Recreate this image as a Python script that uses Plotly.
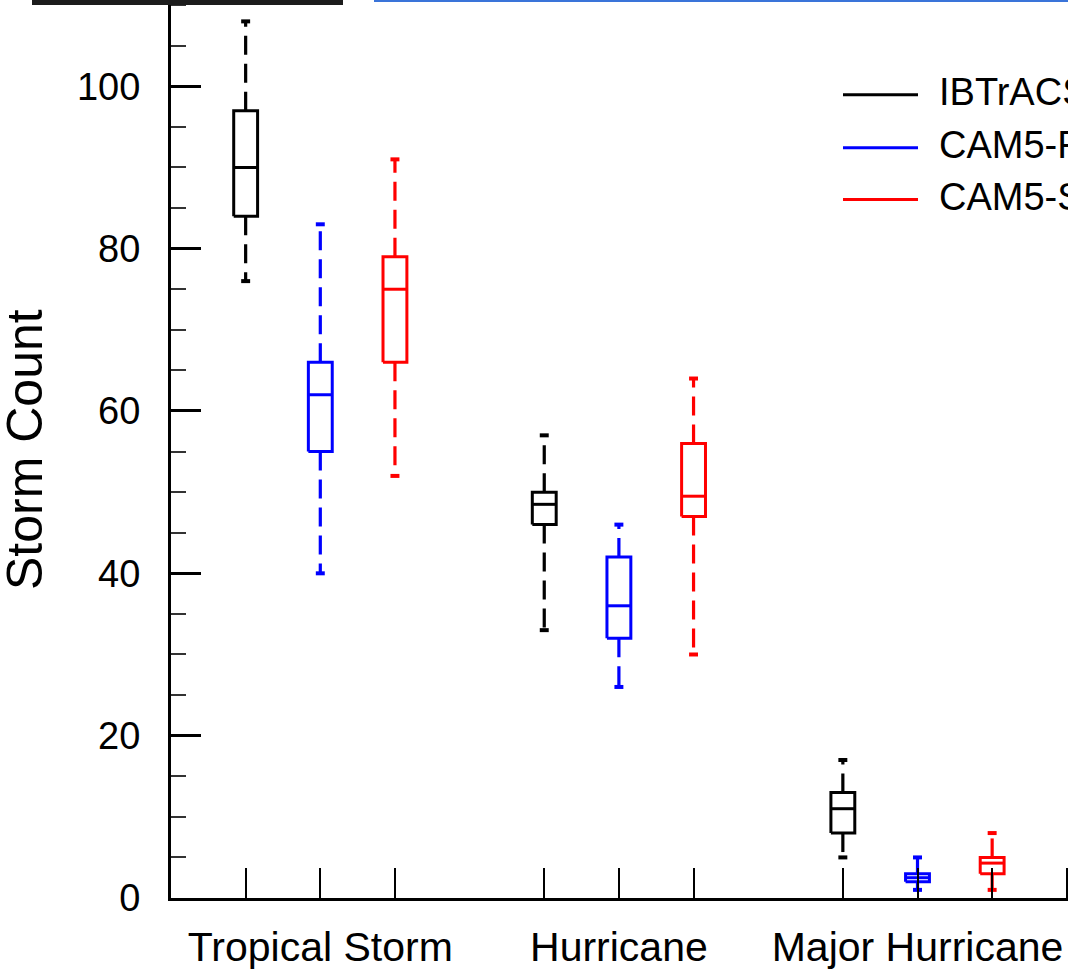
import plotly.graph_objects as go

# ---------------- data ----------------
categories = ["Tropical Storm", "Hurricane", "Major Hurricane"]
series_names = ["IBTrACS", "CAM5-FV", "CAM5-SE"]
series_colors = ["#000000", "#0000ff", "#ff0000"]

ibtracs_lower = [76, 33, 5]
ibtracs_q1 = [84, 46, 8]
ibtracs_median = [90, 48.5, 11]
ibtracs_q3 = [97, 50, 13]
ibtracs_upper = [108, 57, 17]

fv_lower = [40, 26, 1]
fv_q1 = [55, 32, 2]
fv_median = [62, 36, 2.5]
fv_q3 = [66, 42, 3]
fv_upper = [83, 46, 5]

se_lower = [52, 30, 1]
se_q1 = [66, 47, 3]
se_median = [75, 49.5, 4.3]
se_q3 = [79, 56, 5]
se_upper = [91, 64, 8]

x_tickvals = [1, 2, 3, 5, 6, 7, 9, 10, 11, 12]
x_ticktext = ["", "Tropical Storm", "", "", "Hurricane", "", "", "Major Hurricane", "", ""]
y_tickvals = [0, 20, 40, 60, 80, 100]

all_series = [
    (ibtracs_lower, ibtracs_q1, ibtracs_median, ibtracs_q3, ibtracs_upper),
    (fv_lower, fv_q1, fv_median, fv_q3, fv_upper),
    (se_lower, se_q1, se_median, se_q3, se_upper),
]

# ---------------- layout geometry ----------------
W, H = 1068, 970
ML, MR, MT, MB = 171, 0, 0, 70
PW, PH = W - ML - MR, H - MT - MB
XMAX = PW / 74.65
YMAX = PH / 8.135

def pxx(x):
    return (x - ML) / PW

def pyy(y):
    return (H - MB - y) / PH

FONT = "Liberation Sans, Arial, Helvetica, sans-serif"
BOX_HW = 0.16
CAP_HW = 0.06
DASH = "19px,9px"

fig = go.Figure()

for s, (lo, q1, med, q3, up) in enumerate(all_series):
    col = series_colors[s]
    for g in range(len(categories)):
        p = 1 + 4 * g + s
        # whiskers (dashed), from box edge to cap
        fig.add_trace(go.Scatter(x=[p, p], y=[q3[g], up[g]], mode="lines",
                                 line=dict(color=col, width=3.2, dash=DASH),
                                 showlegend=False, hoverinfo="skip"))
        fig.add_trace(go.Scatter(x=[p, p], y=[q1[g], lo[g]], mode="lines",
                                 line=dict(color=col, width=3.2, dash=DASH),
                                 showlegend=False, hoverinfo="skip"))
        # caps
        for v in (up[g], lo[g]):
            fig.add_trace(go.Scatter(x=[p - CAP_HW, p + CAP_HW], y=[v, v], mode="lines",
                                     line=dict(color=col, width=4),
                                     showlegend=False, hoverinfo="skip"))
        # box
        fig.add_trace(go.Scatter(
            x=[p - BOX_HW, p + BOX_HW, p + BOX_HW, p - BOX_HW, p - BOX_HW],
            y=[q1[g], q1[g], q3[g], q3[g], q1[g]], mode="lines",
            line=dict(color=col, width=3), showlegend=False, hoverinfo="skip"))
        # median
        fig.add_trace(go.Scatter(x=[p - BOX_HW, p + BOX_HW], y=[med[g], med[g]], mode="lines",
                                 line=dict(color=col, width=3),
                                 showlegend=False, hoverinfo="skip"))

shapes = []
annotations = []

# legend
leg_y = [95, 148, 200]
for i, name in enumerate(series_names):
    shapes.append(dict(type="line", xref="paper", yref="paper",
                       x0=pxx(843), x1=pxx(918), y0=pyy(leg_y[i]), y1=pyy(leg_y[i]),
                       line=dict(color=series_colors[i], width=3)))
    annotations.append(dict(xref="paper", yref="paper", x=pxx(937), y=pyy(leg_y[i] - 3),
                            xanchor="left", yanchor="middle", showarrow=False,
                            text=name, font=dict(family=FONT, size=38, color="#000")))

# y axis title
annotations.append(dict(xref="paper", yref="paper", x=pxx(25), y=pyy(451),
                        xanchor="center", yanchor="middle", showarrow=False, textangle=-90,
                        text="Storm Count", font=dict(family=FONT, size=50, color="#000")))

# scan artifacts at the top edge
shapes.append(dict(type="rect", xref="paper", yref="paper", layer="above",
                   x0=pxx(32), x1=pxx(343), y0=pyy(5), y1=pyy(-2),
                   fillcolor="#1c1c1c", line=dict(width=0)))
shapes.append(dict(type="rect", xref="paper", yref="paper", layer="above",
                   x0=pxx(374), x1=pxx(1070), y0=pyy(2), y1=pyy(-2),
                   fillcolor="#3a74d9", line=dict(width=0)))

fig.update_layout(
    width=W, height=H,
    margin=dict(l=ML, r=MR, t=MT, b=MB, pad=0),
    paper_bgcolor="white", plot_bgcolor="white",
    showlegend=False,
    font=dict(family=FONT, color="#000"),
    shapes=shapes, annotations=annotations,
    xaxis=dict(range=[0, XMAX], showgrid=False, zeroline=False,
               showline=True, linecolor="#000", linewidth=3,
               tickmode="array", tickvals=x_tickvals, ticktext=x_ticktext,
               ticks="inside", ticklen=30, tickwidth=2, tickcolor="#000",
               tickfont=dict(family=FONT, size=41, color="#000"),
               ticklabelstandoff=11),
    yaxis=dict(range=[0, YMAX], showgrid=False, zeroline=False,
               showline=True, linecolor="#000", linewidth=3,
               tickmode="array", tickvals=y_tickvals,
               ticks="inside", ticklen=30, tickwidth=2.5, tickcolor="#000",
               tickfont=dict(family=FONT, size=38, color="#000"),
               ticklabelstandoff=20,
               minor=dict(dtick=5, tick0=0, ticks="inside", ticklen=15,
                          tickwidth=1.5, tickcolor="#333", showgrid=False)),
)

fig.write_html("out.html")
